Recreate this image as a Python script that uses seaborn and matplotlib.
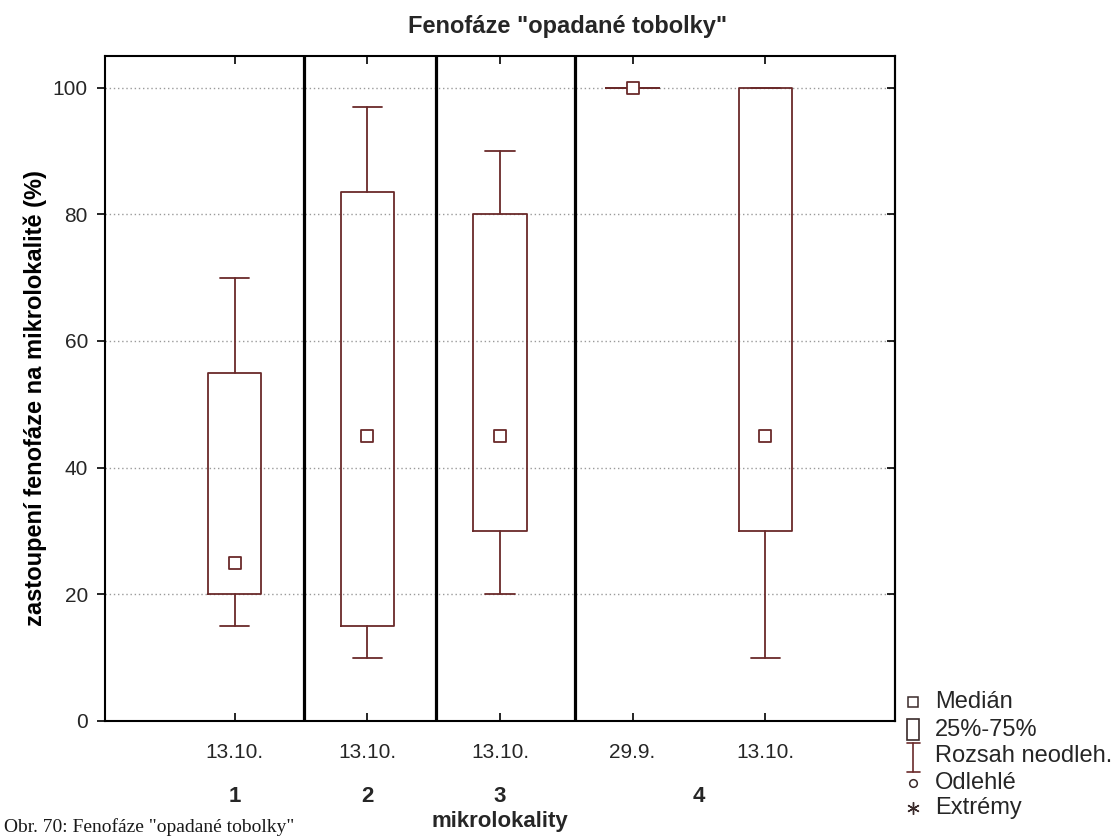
import matplotlib
matplotlib.use("Agg")
import matplotlib.pyplot as plt
from matplotlib.lines import Line2D
from matplotlib.patches import Rectangle
import matplotlib.transforms as mtransforms
import seaborn as sns
import pandas as pd
import numpy as np

# Box statistics per measurement (micro-locality / date)
dates = ["13.10.", "13.10.", "13.10.", "29.9.", "13.10."]
localities = ["1", "2", "3", "4", "4"]
whisker_low = [15, 10, 20, 100, 10]
q1 = [20, 15, 30, 100, 30]
median = [25, 45, 45, 100, 45]
q3 = [55, 83.5, 80, 100, 100]
whisker_high = [70, 97, 90, 100, 100]

group_names = ["1", "2", "3", "4"]
legend_labels = ["Medián", "25%-75%", "Rozsah neodleh.", "Odlehlé", "Extrémy"]

sns.set_theme(style="white")
plt.rcParams["font.family"] = ["Liberation Sans", "DejaVu Sans"]

BOX = "#6a2a2a"
TXT = "#262626"

fig = plt.figure(figsize=(11.14, 8.36), dpi=100)
ax = fig.add_axes([104.6 / 1114, 1 - 721 / 836, (895 - 104.6) / 1114, (721 - 56) / 836])

df = pd.DataFrame({"date": dates, "loc": localities, "lo": whisker_low, "q1": q1,
                   "med": median, "q3": q3, "hi": whisker_high})
df["pos"] = np.arange(len(df))

stats = [dict(whislo=r.lo, q1=r.q1, med=r.med, q3=r.q3, whishi=r.hi, fliers=[])
         for r in df.itertuples()]
ax.bxp(stats, positions=df["pos"], widths=0.40, showfliers=False, patch_artist=False,
       boxprops=dict(color=BOX, linewidth=1.3),
       whiskerprops=dict(color=BOX, linewidth=1.3),
       capprops=dict(color=BOX, linewidth=1.3),
       medianprops=dict(linewidth=0), capwidths=0.22, manage_ticks=False)

# median markers
sns.scatterplot(data=df, x="pos", y="med", ax=ax, marker="s", s=80,
                facecolor="white", edgecolor=BOX, linewidth=1.3, zorder=5, legend=False)

ax.set_xlim(-0.983, 4.98)
ax.set_ylim(0, 105)
ax.set_yticks([0, 20, 40, 60, 80, 100])
ax.set_xticks(df["pos"])
ax.set_xticklabels(dates)
for y in [20, 40, 60, 80, 100]:
    ax.axhline(y, color="#9a9a9a", linestyle=(0, (1, 2)), linewidth=1.0, zorder=0)

# separators between micro-localities
for xd in [0.521, 1.519, 2.566]:
    ax.axvline(xd, color="black", linewidth=2.3, zorder=3)

for s in ax.spines.values():
    s.set_color("black")
    s.set_linewidth(1.5)

ax.tick_params(axis="x", direction="in", top=True, bottom=True, length=6, width=1.2,
               color="black", pad=16, labelsize=15, labelcolor=TXT)
ax.tick_params(axis="y", direction="out", left=True, length=6, width=1.2,
               color="black", pad=6, labelsize=15, labelcolor=TXT)
sec = ax.secondary_yaxis("right")
sec.set_yticks([0, 20, 40, 60, 80, 100])
sec.tick_params(direction="in", length=6, width=1.2, labelright=False, color="black")
sec.spines["right"].set_linewidth(1.5)

ax.set_xlabel("")
ax.set_ylabel("zastoupení fenofáze na mikrolokalitě (%)", fontsize=17, fontweight="bold",
              color="black")
ax.yaxis.set_label_coords(-0.088, 0.485)
ax.yaxis.label.set(ha="center", va="center")

# group (micro-locality) labels under the date labels
trans = mtransforms.blended_transform_factory(ax.transData, fig.transFigure)
for name, xg in zip(group_names, [0, 1, 2, 3.5]):
    ax.text(xg, 1 - 797 / 836, name, transform=trans, ha="center", va="center",
            fontsize=16, fontweight="bold", color=TXT)
ax.text(2, 1 - 821 / 836, "mikrolokality", transform=trans, ha="center", va="center",
        fontsize=16, fontweight="bold", color=TXT)

fig.text(568 / 1114, 1 - 27 / 836, 'Fenofáze "opadané tobolky"', ha="center", va="center",
         fontsize=17, fontweight="bold", color=TXT)

# legend of the plot symbols
def fx(px):
    return px / 1114

def fy(py):
    return 1 - py / 836

ys = [702, 730, 756, 783, 808]
mx = 913.5
fig.add_artist(Line2D([fx(mx)], [fy(ys[0])], marker="s", markersize=6.5, mfc="white",
                      mec="#3a2a2a", mew=1.1, transform=fig.transFigure))
fig.add_artist(Rectangle((fx(907), fy(740)), fx(12), 21 / 836, fill=False,
                         edgecolor="#3a2a2a", linewidth=1.2, transform=fig.transFigure))
fig.add_artist(Line2D([fx(mx), fx(mx)], [fy(743), fy(772)], color=BOX, linewidth=1.2,
                      transform=fig.transFigure))
for yy in [743, 772]:
    fig.add_artist(Line2D([fx(907), fx(920)], [fy(yy), fy(yy)], color=BOX, linewidth=1.2,
                          transform=fig.transFigure))
fig.add_artist(Line2D([fx(mx)], [fy(ys[3])], marker="o", markersize=5.5, mfc="white",
                      mec="#3a2a2a", mew=1.1, transform=fig.transFigure))
fig.add_artist(Line2D([fx(mx)], [fy(ys[4])], marker=(6, 2, 0), markersize=9,
                      mec="#3a2a2a", mew=1.0, transform=fig.transFigure))
for lab, yy in zip(legend_labels, ys):
    fig.text(fx(935), fy(yy), lab, ha="left", va="center", fontsize=17, color=TXT)

# figure caption along the bottom edge
fig.text(0.004, fy(831.5), 'Obr. 70: Fenofáze "opadané tobolky"', ha="left", va="baseline",
         fontsize=14, family=["Liberation Serif", "DejaVu Serif"], color="#1a1a1a")

fig.savefig("out.png", dpi=100)
